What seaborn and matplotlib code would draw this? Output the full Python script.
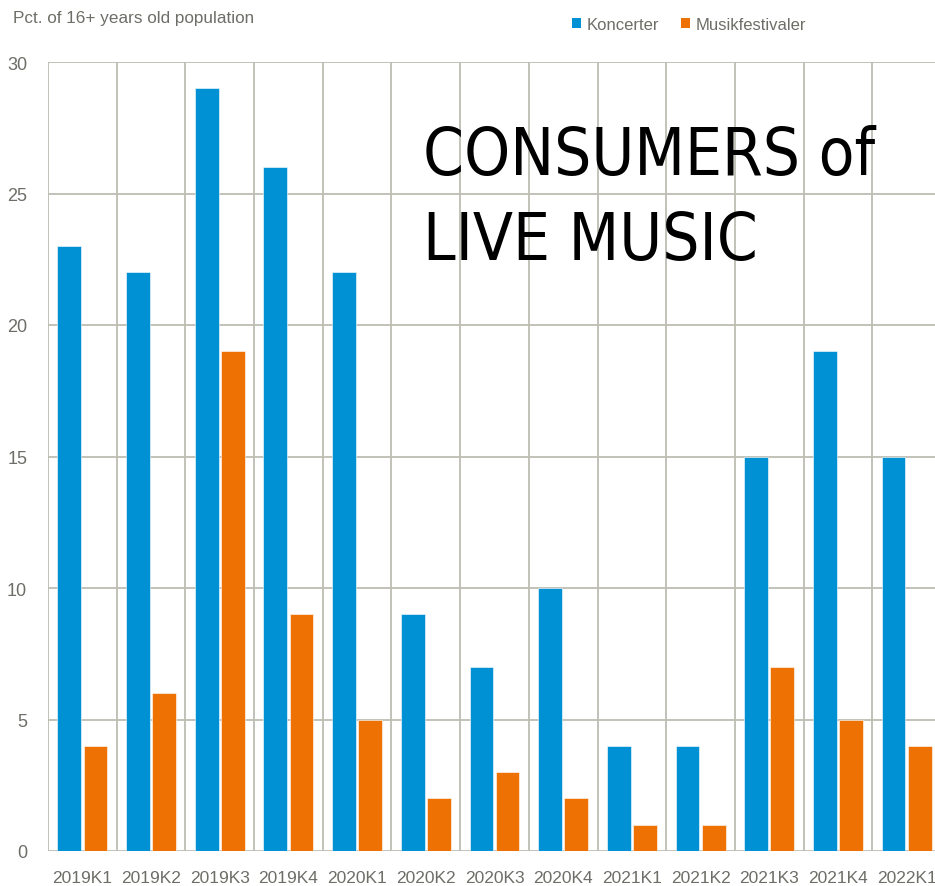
import matplotlib
matplotlib.use("Agg")
import matplotlib.pyplot as plt
from matplotlib import font_manager
import seaborn as sns
import pandas as pd
import numpy as np
from matplotlib.patches import Patch

quarters = ["2019K1", "2019K2", "2019K3", "2019K4", "2020K1", "2020K2", "2020K3",
            "2020K4", "2021K1", "2021K2", "2021K3", "2021K4", "2022K1"]
koncerter = [23, 22, 29, 26, 22, 9, 7, 10, 4, 4, 15, 19, 15]
festivaler = [4, 6, 19, 9, 5, 2, 3, 2, 1, 1, 7, 5, 4]
series_names = ["Koncerter", "Musikfestivaler"]
yticks = [0, 5, 10, 15, 20, 25, 30]

df = pd.DataFrame({
    "quarter": quarters * 2,
    "value": koncerter + festivaler,
    "series": [series_names[0]] * len(quarters) + [series_names[1]] * len(quarters),
})

sns.set_theme(style="white")
plt.rcParams["font.family"] = ["Liberation Sans", "DejaVu Sans"]

# look for a narrow / condensed sans font for the big title
narrow = None
for f in font_manager.fontManager.ttflist:
    name = f.name
    st = str(f.stretch)
    if ("Narrow" in name or "Condensed" in name or st in ("condensed", "semi-condensed", "500", "300")) \
            and f.weight in (400, "normal", "regular") and f.style == "normal":
        if narrow is None or "Liberation" in name:
            narrow = f
if narrow is not None:
    title_font = font_manager.FontProperties(fname=narrow.fname, size=47)
    title_ls = 1.42
else:
    title_font = font_manager.FontProperties(family="Liberation Sans", size=41)
    title_ls = 1.6

colors = ["#0091D5", "#EE7203"]
grid_c = "#BDBDB3"
text_c = "#6E6E68"

fig = plt.figure(figsize=(9.35, 8.87), dpi=100)
ax = fig.add_axes([48 / 935, 1 - 852 / 887, 893 / 935, (852 - 63) / 887])

sns.barplot(data=df, x="quarter", y="value", hue="series", palette=colors,
            saturation=1, width=0.76, gap=0.09, ax=ax, legend=False, zorder=3,
            edgecolor="white", linewidth=0.4)

ax.set_xlim(-0.5, len(quarters) - 0.5)
ax.set_ylim(0, 30)
ax.set_yticks(yticks)
ax.set_yticklabels([str(v) for v in yticks])
ax.set_xticks(range(len(quarters)))
ax.set_xticklabels(quarters)
ax.set_xticks(np.arange(-0.5, len(quarters), 1.0), minor=True)
ax.grid(False)
for y in yticks:
    ax.axhline(y, color=grid_c, lw=1.3, zorder=1)
ax.xaxis.grid(True, which="minor", color=grid_c, lw=1.3, zorder=1)
ax.set_axisbelow(True)
for s in ax.spines.values():
    s.set_visible(False)
ax.tick_params(axis="both", which="both", length=0, colors=text_c)
ax.tick_params(axis="y", pad=15, labelsize=13)
ax.tick_params(axis="x", pad=14, labelsize=12.5)
ax.set_xlabel("")
ax.set_ylabel("")

fig.text(13 / 935, 1 - 18 / 887, "Pct. of 16+ years old population", color=text_c,
         fontsize=12.3, va="center", ha="left")

handles = [Patch(facecolor=c, edgecolor="none") for c in colors]
fig.legend(handles, series_names, loc="center left", bbox_to_anchor=(557 / 935, 1 - 25 / 887),
           ncol=2, frameon=False, fontsize=12, handlelength=0.55, handleheight=0.55,
           handletextpad=0.3, columnspacing=1.35, labelcolor=text_c)

ax.text(423 / 935, 1 - 125 / 887, "CONSUMERS of\nLIVE MUSIC", transform=fig.transFigure,
        fontproperties=title_font, color="black",
        ha="left", va="top", linespacing=title_ls, zorder=2)

fig.savefig("out.png", dpi=100)
